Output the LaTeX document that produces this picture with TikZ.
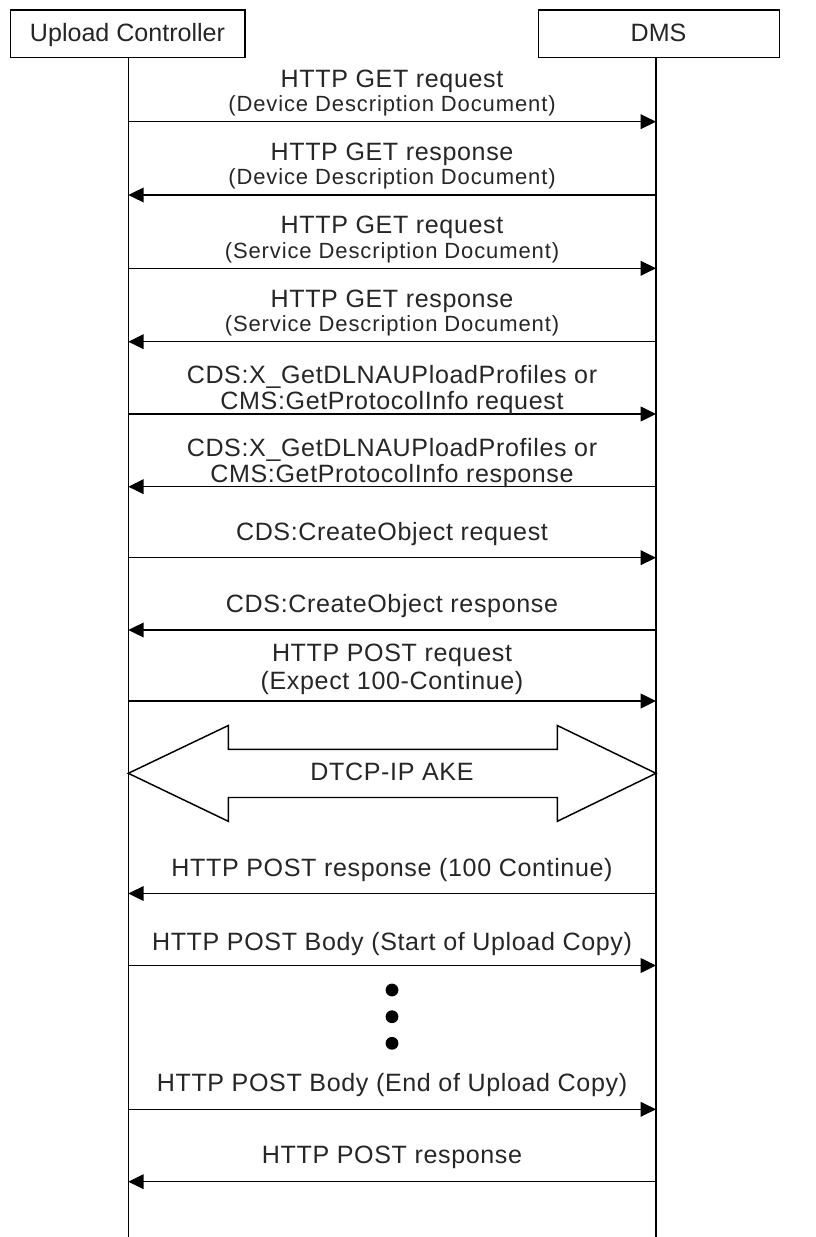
\documentclass[tikz,border=0pt]{standalone}
\usepackage{fontspec}
\setmainfont{Liberation Sans}
\newfontfamily\msgfont[LetterSpace=2.5]{Liberation Sans}
\newfontfamily\subfont[LetterSpace=4]{Liberation Sans}
\usetikzlibrary{arrows.meta}
\tikzset{
  lifebox/.style={draw=black, line width=1.1pt, fill=white},
  lifeline/.style={draw=black, line width=1.1pt},
  msg/.style={draw=black, line width=1.1pt, -{Triangle[length=11.5pt,width=11pt]}},
  boxlbl/.style={anchor=base, inner sep=0pt, text=black!85, font=\fontsize{18.8}{22}\selectfont},
  lbl/.style={anchor=base, inner sep=0pt, text=black!85, font=\msgfont\fontsize{18.8}{22}\selectfont},
  sublbl/.style={anchor=base, inner sep=0pt, text=black!85, font=\subfont\fontsize{16.5}{20}\selectfont},
  akeshape/.style={draw=black, line width=1.1pt, fill=white, line join=miter},
  dot/.style={circle, fill=black, inner sep=0pt, minimum size=9.6pt}
}
\begin{document}
\begin{tikzpicture}[x=0.75pt, y=-0.75pt]
\useasboundingbox (0,0) rectangle (816,1237);
% participant boxes
\draw[lifebox] (10.3,10) rectangle (245,57.5);
\node[boxlbl] (uc) at (127.5,41.7) {Upload Controller};
\draw[lifebox] (538.3,10) rectangle (779.3,57.5);
\node[boxlbl] (dms) at (658.5,41.7) {DMS};
% lifelines
\coordinate (ltop) at (128.3,57.5);
\coordinate (lbot) at (128.3,1237);
\coordinate (rtop) at (656,57.5);
\coordinate (rbot) at (656,1237);
\draw[lifeline] (ltop) -- (lbot);
\draw[lifeline] (rtop) -- (rbot);
% message end points
\foreach \i/\y in {1/121.7, 2/195, 3/268.3, 4/341.7, 5/414, 6/486.7, 7/557.7, 8/630, 9/701, 10/893.5, 11/965.5, 12/1109.3, 13/1181.7}{
  \coordinate (L\i) at (128.3,\y);
  \coordinate (R\i) at (656,\y);
}
% messages
\draw[msg] (L1) -- (R1);
\node[lbl] (m1a) at (392,87.3) {HTTP GET request};
\node[sublbl] (m1b) at (392,111.7) {(Device Description Document)};

\draw[msg] (R2) -- (L2);
\node[lbl] (m2a) at (392,160.6) {HTTP GET response};
\node[sublbl] (m2b) at (392,185) {(Device Description Document)};

\draw[msg] (L3) -- (R3);
\node[lbl] (m3a) at (392,233.9) {HTTP GET request};
\node[sublbl] (m3b) at (392,258.3) {(Service Description Document)};

\draw[msg] (R4) -- (L4);
\node[lbl] (m4a) at (392,307.3) {HTTP GET response};
\node[sublbl] (m4b) at (392,331.7) {(Service Description Document)};

\draw[msg] (L5) -- (R5);
\node[lbl] (m5a) at (392,383.5) {CDS:X\_GetDLNAUPloadProfiles or};
\node[lbl] (m5b) at (392,409.5) {CMS:GetProtocolInfo request};

\draw[msg] (R6) -- (L6);
\node[lbl] (m6a) at (392,456.5) {CDS:X\_GetDLNAUPloadProfiles or};
\node[lbl] (m6b) at (392,482.5) {CMS:GetProtocolInfo response};

\draw[msg] (L7) -- (R7);
\node[lbl] (m7) at (392,540) {CDS:CreateObject request};

\draw[msg] (R8) -- (L8);
\node[lbl] (m8) at (392,612.3) {CDS:CreateObject response};

\draw[msg] (L9) -- (R9);
\node[lbl] (m9a) at (392,661.7) {HTTP POST request};
\node[lbl] (m9b) at (392,689.5) {(Expect 100-Continue)};

% DTCP-IP AKE double arrow
\draw[akeshape] (128.3,773.3) -- (228.3,725.5) -- (228.3,749.3) -- (557.3,749.3)
  -- (557.3,725.5) -- (656,773.3) -- (557.3,821.3) -- (557.3,797.5)
  -- (228.3,797.5) -- (228.3,821.3) -- cycle;
\node[lbl] (ake) at (392,780.3) {DTCP-IP AKE};

\draw[msg] (R10) -- (L10);
\node[lbl] (m10) at (392,876) {HTTP POST response (100 Continue)};

\draw[msg] (L11) -- (R11);
\node[lbl] (m11) at (392,950) {HTTP POST Body (Start of Upload Copy)};

% continuation dots
\node[dot] (d1) at (392,990) {};
\node[dot] (d2) at (392,1016.7) {};
\node[dot] (d3) at (392,1043.3) {};

\draw[msg] (L12) -- (R12);
\node[lbl] (m12) at (392,1091.7) {HTTP POST Body (End of Upload Copy)};

\draw[msg] (R13) -- (L13);
\node[lbl] (m13) at (392,1163.3) {HTTP POST response};
\end{tikzpicture}
\end{document}
